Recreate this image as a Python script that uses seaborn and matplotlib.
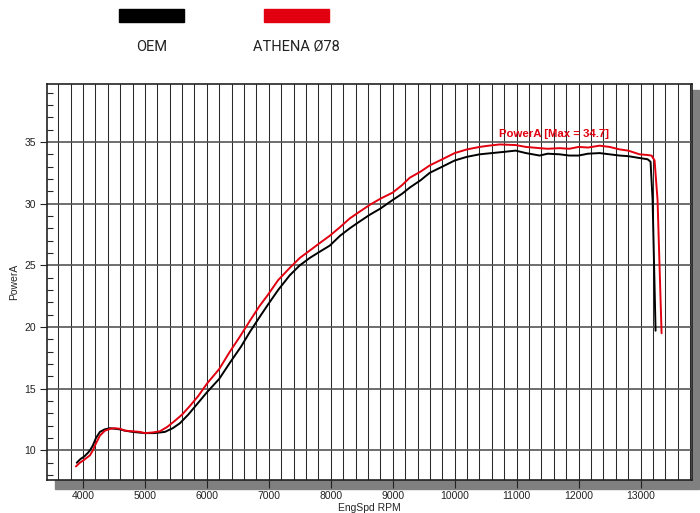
import numpy as np
import pandas as pd
import matplotlib
matplotlib.use("Agg")
import matplotlib.pyplot as plt
from matplotlib.patches import Rectangle
import seaborn as sns

# Dyno curves (rpm, power)
oem_rpm = [3900, 3960, 4020, 4080, 4113, 4160, 4210, 4274, 4350, 4435, 4520, 4600, 4677,
           4800, 4900, 5000, 5150, 5323, 5450, 5565, 5700, 5850, 6000, 6200, 6371,
           6550, 6694, 6850, 6984, 7150, 7339, 7500, 7661, 7820, 7984, 8150, 8306,
           8450, 8629, 8800, 9000, 9150, 9274, 9450, 9597, 9800, 10000, 10200, 10403,
           10600, 10800, 10984, 11150, 11371, 11500, 11694, 11850, 12000, 12150, 12339,
           12500, 12661, 12800, 12984, 13113, 13161, 13194, 13242]
oem_pwr = [9.0, 9.3, 9.5, 9.8, 10.0, 10.4, 11.0, 11.5, 11.7, 11.8, 11.75, 11.7, 11.6,
           11.5, 11.45, 11.4, 11.4, 11.5, 11.8, 12.2, 12.9, 13.8, 14.7, 15.8, 17.1,
           18.4, 19.6, 20.8, 21.8, 23.0, 24.2, 25.0, 25.6, 26.1, 26.6, 27.4, 28.0,
           28.5, 29.1, 29.6, 30.3, 30.8, 31.3, 31.9, 32.5, 33.0, 33.5, 33.8, 34.0,
           34.1, 34.2, 34.3, 34.1, 33.9, 34.05, 34.0, 33.9, 33.9, 34.05, 34.1,
           34.0, 33.9, 33.85, 33.7, 33.6, 33.4, 30.3, 19.7]

athena_rpm = [3887, 3950, 4010, 4060, 4113, 4160, 4194, 4274, 4355, 4440, 4516, 4600, 4677,
              4800, 4919, 5000, 5120, 5242, 5360, 5484, 5600, 5726, 5860, 6000, 6200,
              6371, 6530, 6694, 6850, 6984, 7150, 7339, 7500, 7661, 7820, 7984, 8150,
              8306, 8450, 8629, 8800, 9000, 9150, 9274, 9450, 9597, 9800, 10000, 10200,
              10403, 10550, 10726, 10984, 11150, 11371, 11500, 11694, 11850, 12000,
              12150, 12339, 12500, 12661, 12800, 12984, 13100, 13177, 13226, 13274, 13339]
athena_pwr = [8.7, 9.0, 9.2, 9.4, 9.6, 10.0, 10.4, 11.2, 11.6, 11.75, 11.8, 11.75, 11.6,
              11.55, 11.5, 11.4, 11.45, 11.55, 11.9, 12.4, 12.9, 13.6, 14.4, 15.4, 16.6,
              18.0, 19.2, 20.5, 21.7, 22.6, 23.8, 24.8, 25.6, 26.2, 26.8, 27.4, 28.1,
              28.8, 29.3, 29.9, 30.4, 30.9, 31.5, 32.1, 32.6, 33.1, 33.6, 34.1, 34.4,
              34.6, 34.7, 34.8, 34.75, 34.6, 34.5, 34.45, 34.5, 34.45, 34.6,
              34.55, 34.7, 34.6, 34.4, 34.3, 34.0, 33.95, 33.9, 33.5, 30.3, 19.5]

x_ticks = list(range(4000, 13001, 1000))
y_ticks = [10, 15, 20, 25, 30, 35]
series_names = ["OEM", "ATHENA Ø78"]
series_colors = ["#000000", "#e20010"]

df = pd.concat([
    pd.DataFrame({"rpm": oem_rpm, "power": oem_pwr, "run": series_names[0]}),
    pd.DataFrame({"rpm": athena_rpm, "power": athena_pwr, "run": series_names[1]}),
])

sns.set_style("white")
W, H = 700, 513
fig = plt.figure(figsize=(7, 5.13), dpi=100)

def fx(px):
    return px / W

def fy(py):
    return 1 - py / H

#gray drop shadow behind the frame
fig.patches.append(Rectangle((fx(55), fy(489)), fx(699) - fx(55), fy(90) - fy(489),
                             transform=fig.transFigure, color="#808080", zorder=-1))

ax = fig.add_axes([fx(47), fy(480), fx(692) - fx(47), fy(84) - fy(480)])
ax.set_facecolor("white")

sns.lineplot(data=df, x="rpm", y="power", hue="run", palette=series_colors,
             sort=False, estimator=None, lw=1.4, legend=False, ax=ax, zorder=3)

ax.set_xlim(3420, 13830)
ax.set_ylim(7.6, 39.7)
ax.set_xticks(x_ticks)
ax.set_xticks(np.arange(3600, 13801, 200), minor=True)
ax.set_yticks(y_ticks)
ax.set_yticks(np.arange(8, 40, 1), minor=True)

ax.grid(axis="x", which="both", color="#2a2a2a", lw=0.75, zorder=1)
ax.grid(axis="y", which="major", color="#555555", lw=1.2, zorder=1)
ax.set_axisbelow(True)

ax.tick_params(axis="x", which="major", direction="out", length=6, width=0.8, pad=2,
               labelsize=7.5, colors="#222222", bottom=True)
ax.tick_params(axis="x", which="minor", length=0)
ax.tick_params(axis="y", which="major", direction="out", length=5, width=0.8, pad=3,
               labelsize=7.5, colors="#222222", left=True)
ax.tick_params(axis="y", which="minor", direction="in", length=4, width=0.8, left=True)
for lab in ax.get_xticklabels() + ax.get_yticklabels():
    lab.set_family("Liberation Sans")

for s in ax.spines.values():
    s.set_color("#222222")
    s.set_linewidth(1.2)

ax.set_xlabel("EngSpd RPM", fontsize=7.5, family="Liberation Sans", labelpad=1.5)
ax.set_ylabel("PowerA", fontsize=7.5, family="Liberation Sans", labelpad=4)

ax.text(11600, 35.65, "PowerA [Max = 34.7]", color=series_colors[1], fontsize=8.2,
        fontweight="bold", family="Liberation Sans", ha="center", va="center", zorder=4)

# legend swatches on top
for x0, col, name in zip([119, 264], series_colors, series_names):
    fig.patches.append(Rectangle((fx(x0), fy(22)), fx(65), fy(9) - fy(22),
                                 transform=fig.transFigure, color=col))
    fig.text(fx(x0 + 32.5), fy(47), name, ha="center", va="center", fontsize=10.5,
             family="Roboto", color="#222222")

fig.savefig("out.png", dpi=100)
